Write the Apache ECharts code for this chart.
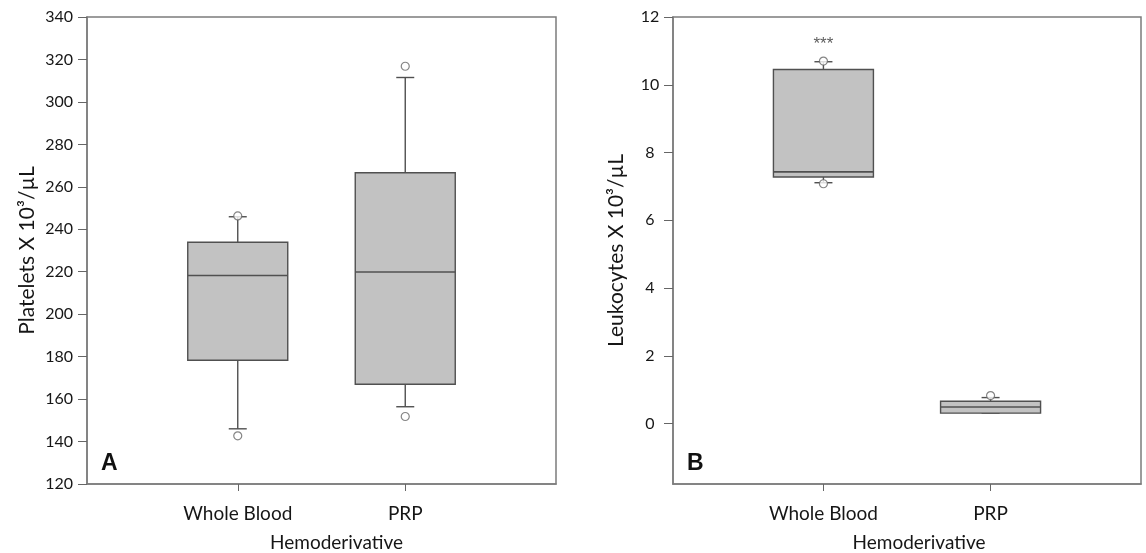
<!DOCTYPE html>
<html>
<head>
<meta charset="utf-8">
<script src="https://cdn.jsdelivr.net/npm/echarts@6/dist/echarts.min.js"></script>
<style>
  html, body { margin: 0; padding: 0; background: #fff; }
  #chart { width: 1146px; height: 553px; }
</style>
</head>
<body>
<div id="chart"></div>
<script>
// categories sit at x = 1, 2 on a value axis
var categories = ['Whole Blood', 'PRP'];
var catPos = [1, 2];

// [low whisker, Q1, median, Q3, high whisker]
var plateletBoxes = [
  [146, 178.3, 218.2, 233.9, 245.9],
  [156.4, 167, 219.9, 266.6, 311.5]
];
var plateletOutliers = [[1, 142.7], [1, 246.3], [2, 151.8], [2, 316.8]];
var plateletTicks = [120, 140, 160, 180, 200, 220, 240, 260, 280, 300, 320, 340];

var leukoBoxes = [
  [7.11, 7.28, 7.43, 10.45, 10.68],
  [0.31, 0.31, 0.49, 0.66, 0.77]
];
var leukoOutliers = [[1, 7.08], [1, 10.7], [2, 0.83]];
var leukoTicks = [0, 2, 4, 6, 8, 10, 12];
var leukoSignif = [[1, 11.28]];

var lineCol = '#505050';
var frameCol = '#7c7c7c';
var textCol = '#161616';
var fontFam = 'Lato, "Open Sans", sans-serif';

function boxData(boxes) {
  return boxes.map(function (b, i) { return [catPos[i]].concat(b); });
}

function renderBox(params, api) {
  var x = api.value(0);
  var lo = api.coord([x, api.value(1)]);
  var q1 = api.coord([x, api.value(2)]);
  var md = api.coord([x, api.value(3)]);
  var q3 = api.coord([x, api.value(4)]);
  var hi = api.coord([x, api.value(5)]);
  var half = 50, cap = 9;
  var st = { stroke: lineCol, lineWidth: 1.4, fill: null };
  return {
    type: 'group',
    children: [
      { type: 'line', shape: { x1: hi[0], y1: hi[1], x2: q3[0], y2: q3[1] }, style: st },
      { type: 'line', shape: { x1: lo[0], y1: lo[1], x2: q1[0], y2: q1[1] }, style: st },
      { type: 'line', shape: { x1: hi[0] - cap, y1: hi[1], x2: hi[0] + cap, y2: hi[1] }, style: st },
      { type: 'line', shape: { x1: lo[0] - cap, y1: lo[1], x2: lo[0] + cap, y2: lo[1] }, style: st },
      { type: 'rect', shape: { x: q3[0] - half, y: q3[1], width: half * 2, height: q1[1] - q3[1] },
        style: { fill: '#c2c2c2', stroke: lineCol, lineWidth: 1.4 } },
      { type: 'line', shape: { x1: md[0] - half, y1: md[1], x2: md[0] + half, y2: md[1] },
        style: { stroke: lineCol, lineWidth: 1.6 } }
    ]
  };
}

function xAxis(gi, nameShift) {
  return {
    type: 'value', gridIndex: gi, min: 0.1, max: 2.9,
    name: 'Hemoderivative', nameLocation: 'middle', nameGap: 49,
    nameTextStyle: { fontSize: 19, color: textCol, fontFamily: fontFam, padding: [0, 0, 0, nameShift] },
    axisLine: { show: true, onZero: false, lineStyle: { color: frameCol, width: 1.5 } },
    axisTick: { show: true, length: 7, customValues: catPos, lineStyle: { color: '#666' } },
    axisLabel: {
      customValues: catPos, margin: 20, fontSize: 19, color: textCol, fontFamily: fontFam,
      formatter: function (v) { return categories[Math.round(v) - 1] || ''; }
    },
    splitLine: { show: false }
  };
}

var chart = echarts.init(document.getElementById('chart'));
var option = {
  backgroundColor: '#fff',
  animation: false,
  grid: [
    { left: 87, top: 17, width: 469, height: 467, outerBoundsMode: 'none', show: true, borderColor: frameCol, borderWidth: 1.5 },
    { left: 673, top: 17, width: 468, height: 467, outerBoundsMode: 'none', show: true, borderColor: frameCol, borderWidth: 1.5 }
  ],
  xAxis: [xAxis(0, 30), xAxis(1, 24)],
  yAxis: [
    {
      type: 'value', gridIndex: 0, min: 120, max: 340, interval: 20,
      name: 'Platelets X 10³/µL', nameLocation: 'middle', nameGap: 49,
      nameTextStyle: { fontSize: 21, color: textCol, fontFamily: fontFam },
      axisLine: { show: true, onZero: false, lineStyle: { color: frameCol, width: 1.5 } },
      axisTick: { show: true, length: 9, lineStyle: { color: '#666' } },
      axisLabel: { margin: 14, fontSize: 16, color: textCol, fontFamily: fontFam },
      splitLine: { show: false }
    },
    {
      type: 'value', gridIndex: 1, min: -1.78, max: 12,
      name: 'Leukocytes X 10³/µL', nameLocation: 'middle', nameGap: 46,
      nameTextStyle: { fontSize: 21, color: textCol, fontFamily: fontFam },
      axisLine: { show: true, onZero: false, lineStyle: { color: frameCol, width: 1.5 } },
      axisTick: { show: true, length: 9, customValues: leukoTicks, lineStyle: { color: '#666' } },
      axisLabel: { customValues: leukoTicks, align: 'center', margin: 23, fontSize: 16, color: textCol, fontFamily: fontFam },
      splitLine: { show: false }
    }
  ],
  series: [
    {
      type: 'custom', xAxisIndex: 0, yAxisIndex: 0, renderItem: renderBox,
      encode: { x: 0, y: [1, 2, 3, 4, 5] }, data: boxData(plateletBoxes)
    },
    {
      type: 'scatter', xAxisIndex: 0, yAxisIndex: 0, data: plateletOutliers, z: 5,
      symbol: 'circle', symbolSize: 8,
      itemStyle: { color: '#fff', borderColor: '#666', borderWidth: 1.2 }
    },
    {
      type: 'custom', xAxisIndex: 1, yAxisIndex: 1, renderItem: renderBox,
      encode: { x: 0, y: [1, 2, 3, 4, 5] }, data: boxData(leukoBoxes)
    },
    {
      type: 'scatter', xAxisIndex: 1, yAxisIndex: 1, data: leukoOutliers, z: 5,
      symbol: 'circle', symbolSize: 8,
      itemStyle: { color: '#fff', borderColor: '#666', borderWidth: 1.2 }
    },
    {
      type: 'scatter', xAxisIndex: 1, yAxisIndex: 1, data: leukoSignif, symbolSize: 0,
      label: {
        show: true, position: 'inside', formatter: '***', fontSize: 17, color: '#333',
        fontFamily: '"Liberation Sans", Arial, sans-serif', offset: [0, 3]
      }
    }
  ],
  graphic: [
    { type: 'text', left: 101, top: 452, style: { text: 'A', fontSize: 23, fontWeight: 'bold', fontFamily: '"Liberation Sans", Arial, sans-serif', fill: '#111' } },
    { type: 'text', left: 687, top: 452, style: { text: 'B', fontSize: 23, fontWeight: 'bold', fontFamily: '"Liberation Sans", Arial, sans-serif', fill: '#111' } }
  ]
};
chart.setOption(option);
</script>
</body>
</html>
